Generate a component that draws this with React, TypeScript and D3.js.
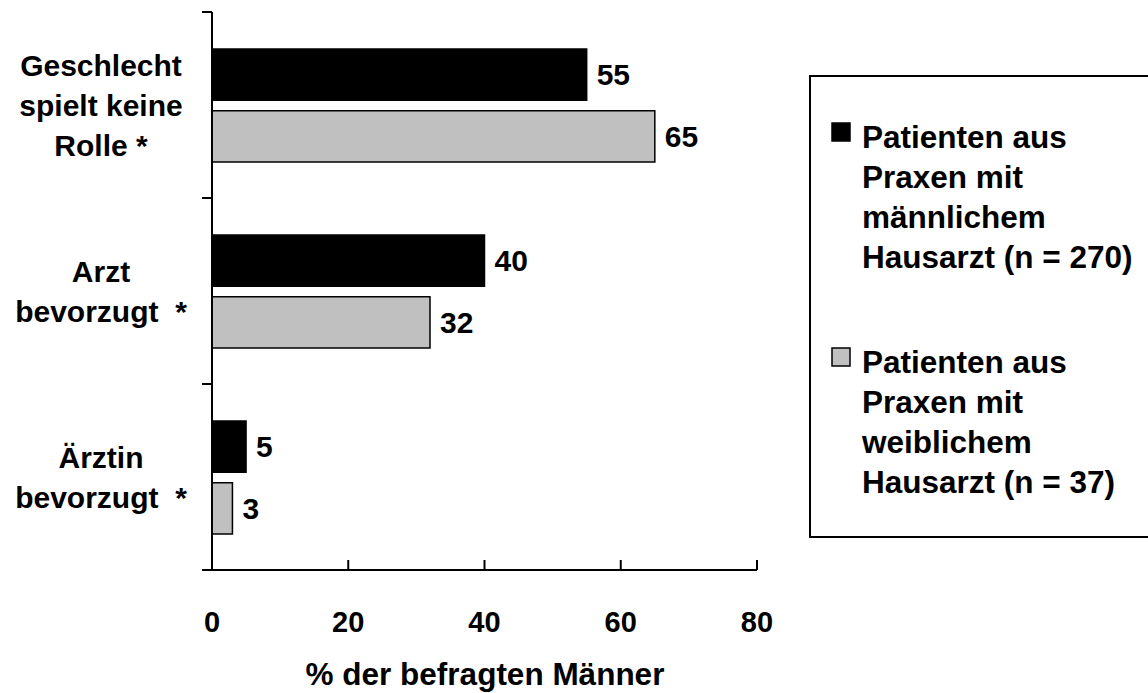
import React from 'react';
import * as d3 from 'd3';

const W = 1148;
const H = 693;

// categories (each split into the lines shown on the chart)
const categories = ['Geschlecht spielt keine Rolle', 'Arzt bevorzugt', 'Ärztin bevorzugt'];
const categoryLines = [
  ['Geschlecht', 'spielt keine', 'Rolle *'],
  ['Arzt', 'bevorzugt  *'],
  ['Ärztin', 'bevorzugt  *'],
];
const series = ['male', 'female'];
const maleValues = [55, 40, 5];
const femaleValues = [65, 32, 3];
const xTicks = [0, 20, 40, 60, 80];
const legendLines = [
  ['Patienten aus', 'Praxen mit', 'männlichem', 'Hausarzt (n = 270)'],
  ['Patienten aus', 'Praxen mit', 'weiblichem', 'Hausarzt (n = 37)'],
];
const colors = ['#000000', '#c0c0c0'];
const xTitle = '% der befragten Männer';

const FONT = '"Liberation Sans", Arial, sans-serif';

export default function App() {
  const x = d3.scaleLinear().domain([0, 80]).range([212, 757]);
  const y = d3.scaleBand().domain(categories).range([12, 570]);
  const inner = d3.scaleBand().domain(series).range([37, 150]).paddingInner(0.17);
  const bounds = d3.range(categories.length + 1).map(i => 12 + i * y.step());

  const rows = categories.map((c, i) => ({ c, vals: [maleValues[i], femaleValues[i]] }));

  return (
    <svg width={W} height={H} style={{ position: 'absolute', left: 0, top: 0, background: '#fff' }}
      fontFamily={FONT} fontWeight="bold">
      {/* bars */}
      {rows.map((r, i) => (
        <g key={r.c} transform={`translate(0,${y(r.c)})`}>
          {series.map((s, j) => (
            <g key={s}>
              <rect x={x(0)} y={inner(s)} width={x(r.vals[j]) - x(0)} height={inner.bandwidth()}
                fill={colors[j]} stroke="#000" strokeWidth={1.5} />
              <text x={x(r.vals[j]) + 10} y={(inner(s) as number) + inner.bandwidth() / 2}
                dy="0.36em" fontSize={30}>{r.vals[j]}</text>
            </g>
          ))}
          {categoryLines[i].map((l, k) => {
            const n = categoryLines[i].length;
            return (
              <text key={k} x={101} y={y.bandwidth() / 2 + (k - (n - 1) / 2) * 40 + 11}
                textAnchor="middle" fontSize={30} style={{ whiteSpace: 'pre' }}>{l}</text>
            );
          })}
        </g>
      ))}

      {/* y axis */}
      <line x1={x(0)} x2={x(0)} y1={bounds[0]} y2={bounds[bounds.length - 1]} stroke="#000" strokeWidth={2} />
      {bounds.map((b, i) => (
        <line key={i} x1={x(0) - 10} x2={x(0)} y1={b} y2={b} stroke="#000" strokeWidth={2} />
      ))}

      {/* x axis */}
      <line x1={x(0)} x2={x(80)} y1={570} y2={570} stroke="#000" strokeWidth={2} />
      {xTicks.map(t => (
        <g key={t}>
          <line x1={x(t)} x2={x(t)} y1={570} y2={560} stroke="#000" strokeWidth={2} />
          <text x={x(t)} y={632} textAnchor="middle" fontSize={29}>{t}</text>
        </g>
      ))}
      <text x={485} y={685} textAnchor="middle" fontSize={31.5}>{xTitle}</text>

      {/* legend */}
      <rect x={810} y={76} width={360} height={461} fill="#fff" stroke="#000" strokeWidth={2} />
      {legendLines.map((lines, i) => (
        <g key={i} transform={`translate(0,${i * 225})`}>
          <rect x={832} y={123} width={18} height={18} fill={colors[i]} stroke="#000" strokeWidth={1.5} />
          {lines.map((l, k) => (
            <text key={k} x={862} y={148 + k * 40} fontSize={31.5}>{l}</text>
          ))}
        </g>
      ))}
    </svg>
  );
}
